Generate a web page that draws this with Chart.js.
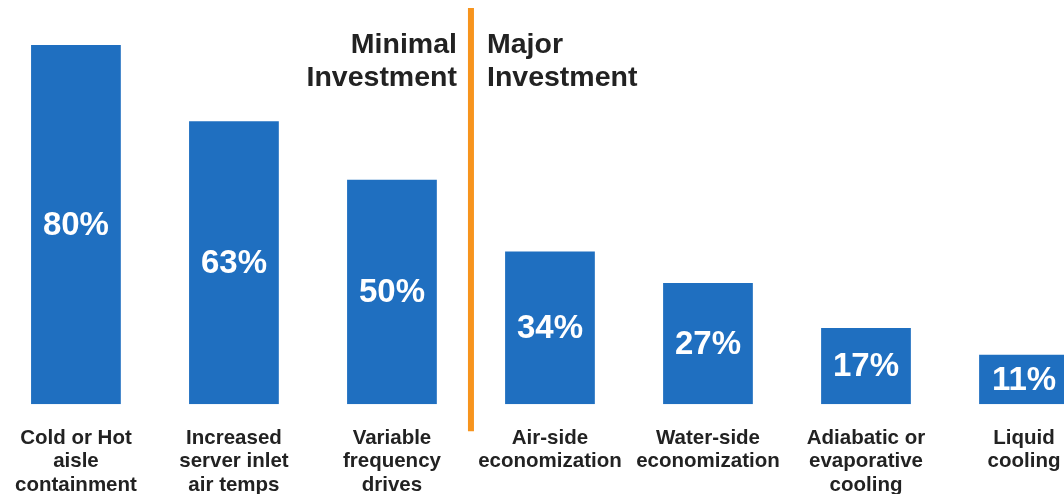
<!DOCTYPE html>
<html>
<head>
<meta charset="utf-8">
<script src="https://cdn.jsdelivr.net/npm/chart.js@4"></script>
<style>
    body { margin: 0; background: #fff; overflow: hidden; }
    #wrap { position: absolute; left: -7px; top: 0; width: 1110px; height: 519px; }
</style>
</head>
<body>
<div id="wrap"><canvas id="chart" width="1110" height="519"></canvas></div>
<script>
    'use strict';

    var categories = [
        ['Cold or Hot', 'aisle', 'containment'],
        ['Increased', 'server inlet', 'air temps'],
        ['Variable', 'frequency', 'drives'],
        ['Air-side', 'economization'],
        ['Water-side', 'economization'],
        ['Adiabatic or', 'evaporative', 'cooling'],
        ['Liquid', 'cooling']
    ];
    var adoption = [80, 63, 50, 34, 27, 17, 11];
    var groupLeft = ['Minimal', 'Investment'];
    var groupRight = ['Major', 'Investment'];
    var splitAfter = 2; // last index of the "minimal" group

    var FONT = '"Liberation Sans", Arial, Helvetica, sans-serif';
    var TEXT = '#222222';

    // percent labels in the middle of each bar
    var valueLabels = {
        id: 'valueLabels',
        afterDatasetsDraw: function(chart) {
            var ctx = chart.ctx;
            var meta = chart.getDatasetMeta(0);
            ctx.save();
            ctx.fillStyle = '#ffffff';
            ctx.font = 'bold 33px ' + FONT;
            ctx.textAlign = 'center';
            ctx.textBaseline = 'middle';
            meta.data.forEach(function(bar, i) {
                var p = bar.getProps(['x', 'y', 'base'], true);
                ctx.fillText(adoption[i] + '%', p.x, (p.y + p.base) / 2 + 1);
            });
            ctx.restore();
        }
    };

    // orange divider with the two group captions
    var divider = {
        id: 'divider',
        afterDraw: function(chart) {
            var ctx = chart.ctx;
            var area = chart.chartArea;
            var xs = chart.scales.x;
            var x = (xs.getPixelForValue(splitAfter) + xs.getPixelForValue(splitAfter + 1)) / 2;
            ctx.save();
            ctx.strokeStyle = '#f7941d';
            ctx.lineWidth = 6;
            ctx.beginPath();
            ctx.moveTo(x, area.top + 8);
            ctx.lineTo(x, area.bottom + 27);
            ctx.stroke();

            ctx.fillStyle = TEXT;
            ctx.font = 'bold 28.5px ' + FONT;
            ctx.textBaseline = 'middle';
            ctx.textAlign = 'right';
            groupLeft.forEach(function(t, i) {
                ctx.fillText(t, x - 14, area.top + 45 + i * 33);
            });
            ctx.textAlign = 'left';
            groupRight.forEach(function(t, i) {
                ctx.fillText(t, x + 16, area.top + 45 + i * 33);
            });
            ctx.restore();
        }
    };

    new Chart(document.getElementById('chart'), {
        type: 'bar',
        data: {
            labels: categories,
            datasets: [{
                data: adoption,
                backgroundColor: '#1f6fc0',
                borderWidth: 0,
                categoryPercentage: 1,
                barPercentage: 0.568
            }]
        },
        options: {
            responsive: false,
            animation: false,
            layout: { padding: 0 },
            plugins: {
                legend: { display: false },
                tooltip: { enabled: false }
            },
            scales: {
                x: {
                    grid: { display: false, drawTicks: false },
                    border: { display: false },
                    ticks: {
                        color: TEXT,
                        padding: 22,
                        maxRotation: 0,
                        autoSkip: false,
                        font: { family: FONT, size: 20.5, weight: 'bold', lineHeight: 1.15 }
                    }
                },
                y: {
                    display: false,
                    min: 0,
                    max: 90
                }
            }
        },
        plugins: [valueLabels, divider]
    });
</script>
</body>
</html>
